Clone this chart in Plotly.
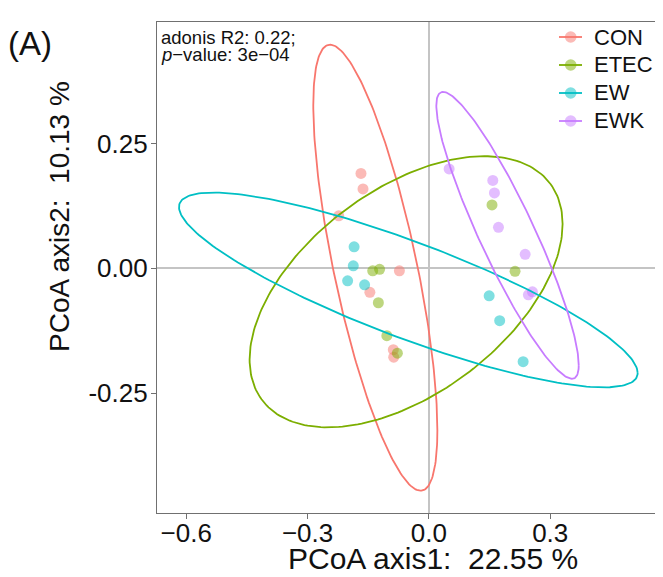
import numpy as np
import plotly.graph_objects as go

# ---------------- data ----------------
groups = ["CON", "ETEC", "EW", "EWK"]
colors = ["#F8766D", "#7CAE00", "#00BFC4", "#C77CFF"]

CON_x = [-0.168, -0.163, -0.223, -0.073, -0.146, -0.088, -0.087]
CON_y = [0.190, 0.159, 0.105, -0.005, -0.048, -0.163, -0.178]
ETEC_x = [0.156, -0.139, -0.122, -0.125, -0.104, -0.078, 0.213]
ETEC_y = [0.127, -0.005, -0.002, -0.069, -0.135, -0.170, -0.006]
EW_x = [-0.185, -0.187, -0.201, -0.159, 0.149, 0.175, 0.233]
EW_y = [0.043, 0.005, -0.025, -0.033, -0.055, -0.105, -0.187]
EWK_x = [0.050, 0.158, 0.162, 0.172, 0.238, 0.256, 0.246]
EWK_y = [0.199, 0.176, 0.151, 0.082, 0.028, -0.047, -0.053]

# 95% confidence ellipses per group: centre and shape (covariance-like) matrix
ell_cx = [-0.1325, -0.0564, -0.0509, 0.1944]
ell_cy = [0.0012, -0.0470, -0.0434, 0.0660]
ell_vxx = [0.02354, 0.14977, 0.3216, 0.0310]
ell_vyy = [0.19943, 0.07371, 0.03804, 0.08248]
ell_vxy = [-0.04993, 0.05252, -0.09417, -0.04575]

x_ticks = [-0.6, -0.3, 0.0, 0.3]
x_ticktext = ["\u22120.6", "\u22120.3", "0.0", "0.3"]
y_ticks = [-0.25, 0.0, 0.25]
y_ticktext = ["-0.25", "0.00", "0.25"]

xs = [CON_x, ETEC_x, EW_x, EWK_x]
ys = [CON_y, ETEC_y, EW_y, EWK_y]

FONT = "Liberation Sans, Arial, sans-serif"

fig = go.Figure()

# points
for g, c, x, y in zip(groups, colors, xs, ys):
    fig.add_trace(go.Scatter(
        x=x, y=y, mode="markers", name=g, showlegend=False,
        marker=dict(color=c, size=11, opacity=0.5, line=dict(width=0)),
        hoverinfo="x+y+name"))

# ellipses
t = np.linspace(0, 2 * np.pi, 241)
circle = np.vstack([np.cos(t), np.sin(t)])
for i, (g, c) in enumerate(zip(groups, colors)):
    M = np.array([[ell_vxx[i], ell_vxy[i]], [ell_vxy[i], ell_vyy[i]]])
    Lc = np.linalg.cholesky(M)
    pts = Lc @ circle
    fig.add_trace(go.Scatter(
        x=ell_cx[i] + pts[0], y=ell_cy[i] + pts[1], mode="lines", name=g,
        line=dict(color=c, width=1.8), showlegend=False, hoverinfo="skip"))

# page body has an 8px margin: figure is laid out in page pixels shifted by OFF
OFF = 8
W, H = 663 - OFF, 577 - OFF
PL, PR, PT, PB = 157, 662, 22, 513          # plot area in page pixels
pw, ph = PR - PL, PB - PT


def px_x(p):
    return (p - PL) / pw


def px_y(p):
    return (PB - p) / ph


axis_common = dict(
    showgrid=False, zeroline=True, zerolinecolor="#C4C4C4", zerolinewidth=1.5,
    showline=True, linecolor="#707070", linewidth=1.3, mirror=True,
    ticks="outside", ticklen=5, tickwidth=1.3, tickcolor="#707070",
    tickfont=dict(family=FONT, size=26, color="#111111"),
)

# legend (drawn as keys: line + point, label)
leg_rows = [37, 65, 93, 121]
shapes = []
annotations = []
for g, c, ry in zip(groups, colors, leg_rows):
    shapes.append(dict(type="line", xref="paper", yref="paper",
                       x0=px_x(559), x1=px_x(582), y0=px_y(ry), y1=px_y(ry),
                       line=dict(color=c, width=1.8)))
    shapes.append(dict(type="circle", xref="paper", yref="paper",
                       x0=px_x(570.7 - 5.8), x1=px_x(570.7 + 5.8),
                       y0=px_y(ry + 5.8), y1=px_y(ry - 5.8),
                       fillcolor=c, opacity=0.5, line=dict(width=0)))
    annotations.append(dict(text=g, x=px_x(592), y=px_y(ry), xref="paper", yref="paper",
                            xanchor="left", yanchor="middle", showarrow=False,
                            font=dict(family=FONT, size=22, color="#111111")))

annotations += [
    dict(text="adonis R2: 0.22;", x=px_x(159), y=px_y(37), xref="paper", yref="paper",
         xanchor="left", yanchor="middle", showarrow=False,
         font=dict(family=FONT, size=18.5, color="#111111")),
    dict(text="<i>p</i>\u2212value: 3e\u221204", x=px_x(159), y=px_y(55), xref="paper", yref="paper",
         xanchor="left", yanchor="middle", showarrow=False,
         font=dict(family=FONT, size=18.5, color="#111111")),
    dict(text="PCoA axis1:  22.55 %", x=px_x(433), y=px_y(558), xref="paper", yref="paper",
         xanchor="center", yanchor="middle", showarrow=False,
         font=dict(family=FONT, size=30, color="#111111")),
    dict(text="PCoA axis2:  10.13 %", x=px_x(59), y=px_y(217), xref="paper", yref="paper",
         xanchor="center", yanchor="middle", showarrow=False, textangle=-90,
         font=dict(family=FONT, size=28, color="#111111")),
    dict(text="(A)", x=px_x(30), y=px_y(43), xref="paper", yref="paper",
         xanchor="center", yanchor="middle", showarrow=False,
         font=dict(family=FONT, size=33, color="#111111")),
]

fig.update_layout(
    width=W, height=H,
    margin=dict(l=PL - OFF, r=W - (PR - OFF), t=PT - OFF, b=H - (PB - OFF), pad=0),
    paper_bgcolor="white", plot_bgcolor="white",
    font=dict(family=FONT),
    xaxis=dict(range=[-0.6724, 0.5764], tickmode="array", tickvals=x_ticks,
               ticktext=x_ticktext, ticklabelstandoff=-8, **axis_common),
    yaxis=dict(range=[-0.490, 0.4932], tickmode="array", tickvals=y_ticks,
               ticktext=y_ticktext, ticklabelstandoff=-2, **axis_common),
    showlegend=False,
    shapes=shapes,
    annotations=annotations,
)

fig.write_html("out.html")
